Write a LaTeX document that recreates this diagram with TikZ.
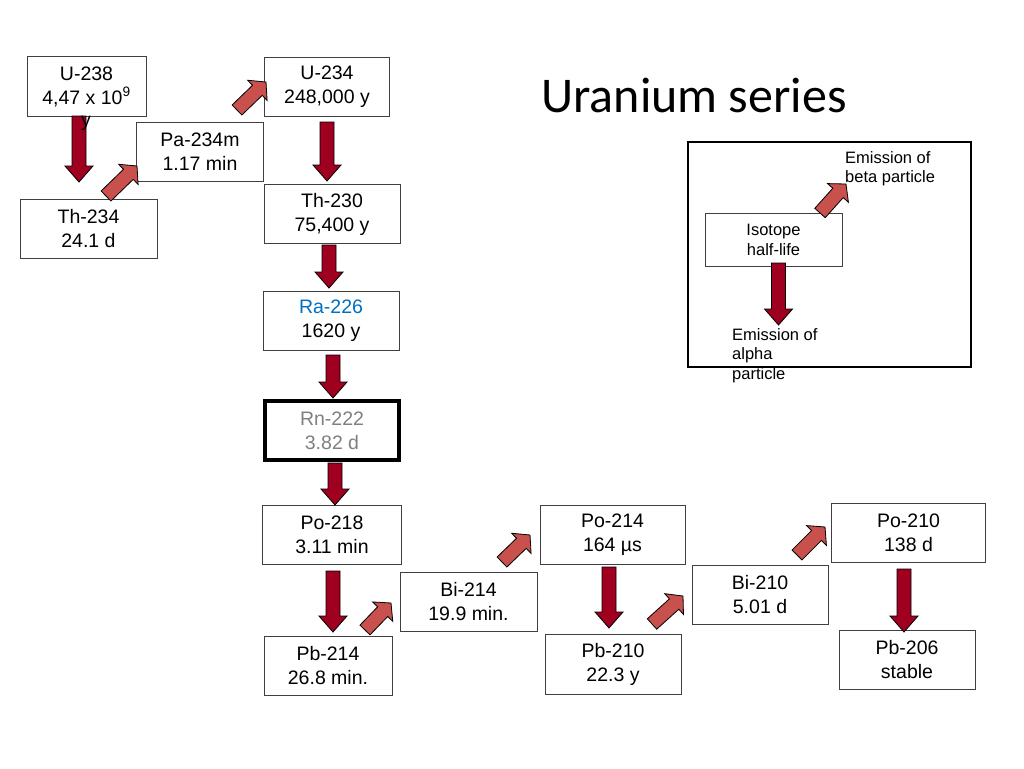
\documentclass[tikz,border=0pt]{standalone}
\usepackage{fontspec}
\setmainfont{Liberation Sans}
\newfontfamily\titlefont{Carlito}
\usetikzlibrary{calc}
\definecolor{alphared}{RGB}{160,0,32}
\definecolor{betared}{RGB}{200,80,77}
\definecolor{rablue}{RGB}{0,112,192}
\newcommand{\blockarrow}[4]{%
  \coordinate (hb) at ($(#4)!#2!(#3)$);
  \draw[#1] ($(#3)!7pt!90:(#4)$) -- ($(hb)!7pt!90:(#4)$) -- ($(hb)!14pt!90:(#4)$) -- (#4)
    -- ($(hb)!14pt!-90:(#4)$) -- ($(hb)!7pt!-90:(#4)$) -- ($(#3)!7pt!-90:(#4)$) -- cycle;}

\begin{document}
\begin{tikzpicture}
  [x=1pt,y=-1pt,
   every node/.style={font=\fontsize{19.5}{24}\selectfont, inner sep=0pt},
   isobox/.style={draw=black!75, line width=0.8pt, fill=white, align=center},
   wh/.style 2 args={minimum width=#1pt, minimum height=#2pt},
   alphaarrow/.style={draw=black, line width=0.8pt, fill=alphared},
   betaarrow/.style={draw=black, line width=0.8pt, fill=betared},
   legendtext/.style={font=\fontsize{16.5}{19.5}\selectfont, align=left}]
  \fill[white] (0,0) rectangle (1024,768);
  \useasboundingbox (0,0) rectangle (1024,768);

  \node[anchor=base, font=\titlefont\fontsize{50}{60}\selectfont] (title) at (694,112) {Uranium series};

  \node[isobox, wh={119}{60}] (u238) at (86.5,86.5) {U-238\\4,47 x 10\textsuperscript{9}};
  \node[isobox, wh={137}{59}] (th234) at (88.5,228.5) {Th-234\\24.1 d};
  \node[isobox, wh={127}{59}] (pa234m) at (200,151.5) {Pa-234m\\1.17 min};
  \node[isobox, wh={125}{59}] (u234) at (327,86.5) {U-234\\248,000 y};
  \node[isobox, wh={136}{59}] (th230) at (332,214) {Th-230\\75,400 y};
  \node[isobox, wh={136}{59}] (ra226) at (331,320.5) {\textcolor{rablue}{Ra-226}\\1620 y};
  \node[isobox, wh={134}{59}, line width=4pt, draw=black, text=black!50] (rn222) at (332,430.5) {Rn-222\\3.82 d};
  \node[isobox, wh={139}{59}] (po218) at (332,534.5) {Po-218\\3.11 min};
  \node[isobox, wh={128}{59}] (pb214) at (328,666) {Pb-214\\26.8 min.};
  \node[isobox, wh={137}{59}] (bi214) at (468.5,602) {Bi-214\\19.9 min.};
  \node[isobox, wh={145}{59}] (po214) at (612.5,534.5) {Po-214\\164 µs};
  \node[isobox, wh={136}{60}] (pb210) at (613,664) {Pb-210\\22.3 y};
  \node[isobox, wh={136}{59}] (bi210) at (760,595) {Bi-210\\5.01 d};
  \node[isobox, wh={154}{59}] (po210) at (908.5,532.5) {Po-210\\138 d};
  \node[isobox, wh={136}{59}] (pb206) at (907,659.5) {Pb-206\\stable};

  \node[draw=black, line width=2pt, wh={283}{225}] (legend) at (829.5,254.5) {};
  \node[isobox, wh={137}{53}, font=\fontsize{16.5}{19.5}\selectfont] (iso) at (773.5,240) {Isotope\\half-life};
  \node[legendtext, anchor=north west] (betatext) at (845,151) {Emission of\\beta particle};
  \node[legendtext, anchor=north west] (alphatext) at (732,328) {Emission of\\alpha\\particle};

  \coordinate (a1t) at (79,116);    \coordinate (a1h) at (79,182);
  \coordinate (a2t) at (327,122);   \coordinate (a2h) at (327,181);
  \coordinate (a3t) at (329,245);   \coordinate (a3h) at (329,288);
  \coordinate (a4t) at (333,355);   \coordinate (a4h) at (333,398);
  \coordinate (a5t) at (335,463);   \coordinate (a5h) at (335,505);
  \coordinate (a6t) at (333,571);   \coordinate (a6h) at (333,632);
  \coordinate (a7t) at (609,567);   \coordinate (a7h) at (609,628);
  \coordinate (a8t) at (904,569);   \coordinate (a8h) at (904,632);
  \coordinate (a9t) at (778.5,263); \coordinate (a9h) at (778.5,325);
  \coordinate (b1t) at (106,196);   \coordinate (b1h) at (137,166);
  \coordinate (b2t) at (237,110);   \coordinate (b2h) at (266,82);
  \coordinate (b3t) at (365,630);   \coordinate (b3h) at (391,603);
  \coordinate (b4t) at (502,562);   \coordinate (b4h) at (530,535);
  \coordinate (b5t) at (652,624);   \coordinate (b5h) at (683,596);
  \coordinate (b6t) at (797,555);   \coordinate (b6h) at (825,527);
  \coordinate (b7t) at (820,213);   \coordinate (b7h) at (846,184);

  \foreach \from/\to in {a1t/a1h,a2t/a2h,a3t/a3h,a4t/a4h,a5t/a5h,a6t/a6h,a7t/a7h,a8t/a8h,a9t/a9h}
    \blockarrow{alphaarrow}{16pt}{\from}{\to};
  \foreach \from/\to in {b1t/b1h,b2t/b2h,b3t/b3h,b4t/b4h,b5t/b5h,b6t/b6h,b7t/b7h}
    \blockarrow{betaarrow}{12pt}{\from}{\to};

  \node[anchor=base] (u238y) at (86,126) {y};
\end{tikzpicture}
\end{document}
